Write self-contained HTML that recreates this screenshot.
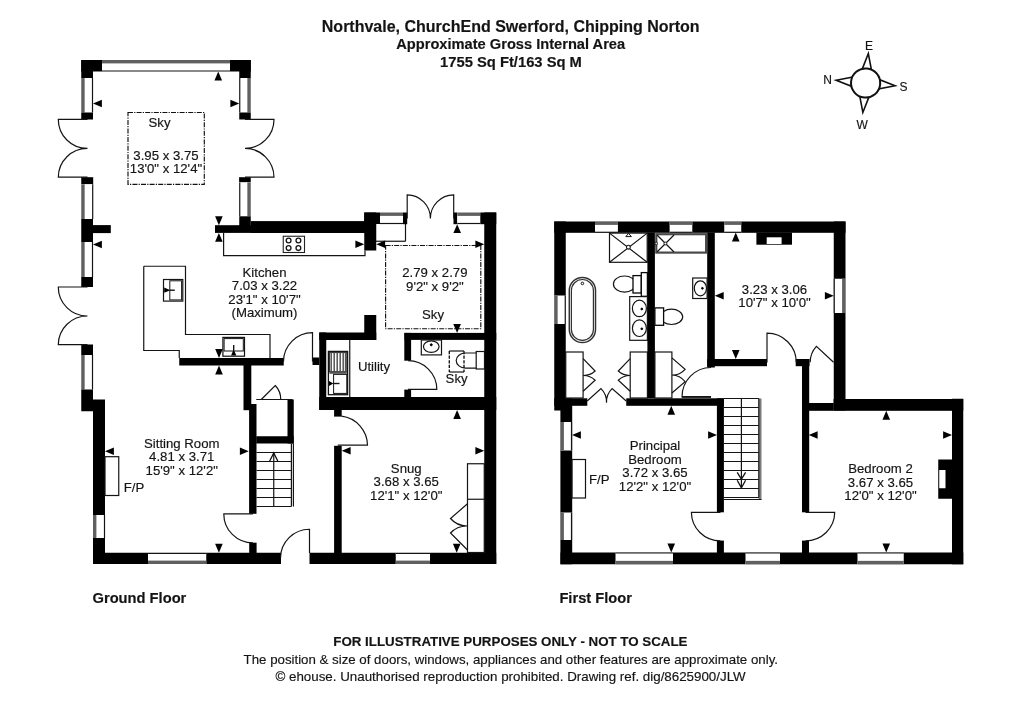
<!DOCTYPE html>
<html><head><meta charset="utf-8"><title>Floor plan</title>
<style>
html,body{margin:0;padding:0;background:#fff;}
body{width:1024px;height:724px;overflow:hidden;font-family:"Liberation Sans",sans-serif;}
svg{display:block;will-change:transform;}
svg text{font-family:"Liberation Sans",sans-serif;fill:#141414;stroke:#141414;stroke-width:0.16px;}
</style></head><body>
<svg width="1024" height="724" viewBox="0 0 1024 724">
<rect x="0" y="0" width="1024" height="724" fill="#fff"/>
<text x="510.7" y="31.7" font-size="16" text-anchor="middle" font-weight="bold" >Northvale, ChurchEnd Swerford, Chipping Norton</text>
<text x="510.7" y="49.3" font-size="14.65" text-anchor="middle" font-weight="bold" >Approximate Gross Internal Area</text>
<text x="511" y="66.5" font-size="14.75" text-anchor="middle" font-weight="bold" >1755 Sq Ft/163 Sq M</text>
<text x="92.5" y="603" font-size="14.7" text-anchor="start" font-weight="bold" >Ground Floor</text>
<text x="559.4" y="603" font-size="14.7" text-anchor="start" font-weight="bold" >First Floor</text>
<text x="510.4" y="645.8" font-size="13.34" text-anchor="middle" font-weight="bold" >FOR ILLUSTRATIVE PURPOSES ONLY - NOT TO SCALE</text>
<text x="510.8" y="663.6" font-size="13.27" text-anchor="middle" font-weight="normal" >The position &amp; size of doors, windows, appliances and other features are approximate only.</text>
<text x="510.6" y="681.2" font-size="13.35" text-anchor="middle" font-weight="normal" >© ehouse. Unauthorised reproduction prohibited. Drawing ref. dig/8625900/JLW</text>
<g transform="translate(865.6,83) rotate(5.3)">
<polygon points="0,-29.6 -4.8,-13 4.8,-13" fill="#fff" stroke="#111" stroke-width="1.6" stroke-linejoin="miter"/>
<polygon points="0,29.6 -4.8,13 4.8,13" fill="#fff" stroke="#111" stroke-width="1.6"/>
<polygon points="-29.6,0 -13,-4.8 -13,4.8" fill="#fff" stroke="#111" stroke-width="1.6"/>
<polygon points="29.6,0 13,-4.8 13,4.8" fill="#fff" stroke="#111" stroke-width="1.6"/>
<circle cx="0" cy="0" r="14.6" fill="#fff" stroke="#111" stroke-width="2"/>
</g>
<text x="868.9" y="49.6" font-size="12" text-anchor="middle" font-weight="normal" >E</text>
<text x="827.7" y="84" font-size="12" text-anchor="middle" font-weight="normal" >N</text>
<text x="903.4" y="90.6" font-size="12" text-anchor="middle" font-weight="normal" >S</text>
<text x="862.1" y="128.9" font-size="12" text-anchor="middle" font-weight="normal" >W</text>
<rect x="81.25" y="60" width="20.75" height="11.5" fill="#000"/>
<rect x="81.25" y="60" width="11.75" height="18" fill="#000"/>
<rect x="230" y="60" width="20.75" height="11.5" fill="#000"/>
<rect x="239.25" y="60" width="11.5" height="18" fill="#000"/>
<rect x="102" y="60" width="128" height="11.5" fill="#fff"/>
<rect x="102" y="60" width="128" height="3.4" fill="#606060"/>
<line x1="102" y1="71" x2="230" y2="71" stroke="#141414" stroke-width="1.2" />
<rect x="81.25" y="78" width="11.75" height="34.5" fill="#fff"/>
<rect x="81.25" y="78" width="3.4" height="34.5" fill="#606060"/>
<line x1="92.5" y1="78" x2="92.5" y2="112.5" stroke="#141414" stroke-width="1.2" />
<rect x="81.25" y="112.5" width="11.75" height="7" fill="#000"/>
<rect x="81.25" y="177.2" width="11.95" height="7.1" fill="#000"/>
<rect x="81.25" y="184.3" width="11.95" height="34.7" fill="#fff"/>
<rect x="81.25" y="184.3" width="3.4" height="34.7" fill="#606060"/>
<line x1="92.7" y1="184.3" x2="92.7" y2="219" stroke="#141414" stroke-width="1.2" />
<rect x="81.25" y="219" width="11.75" height="23" fill="#000"/>
<rect x="93" y="225.1" width="17.8" height="8" fill="#000"/>
<rect x="81.25" y="242" width="11.75" height="35" fill="#fff"/>
<rect x="81.25" y="242" width="3.4" height="35" fill="#606060"/>
<line x1="92.5" y1="242" x2="92.5" y2="277" stroke="#141414" stroke-width="1.2" />
<rect x="81.25" y="277" width="11.75" height="10" fill="#000"/>
<rect x="81.25" y="344.5" width="11.75" height="10.5" fill="#000"/>
<rect x="81.25" y="355" width="11.75" height="34.5" fill="#fff"/>
<rect x="81.25" y="355" width="3.4" height="34.5" fill="#606060"/>
<line x1="92.5" y1="355" x2="92.5" y2="389.5" stroke="#141414" stroke-width="1.2" />
<rect x="81.25" y="389.5" width="11.75" height="21.75" fill="#000"/>
<rect x="93" y="399.5" width="12" height="164.5" fill="#000"/>
<rect x="93" y="515" width="12" height="23" fill="#fff"/>
<rect x="93" y="515" width="3.4" height="23" fill="#606060"/>
<line x1="104.5" y1="515" x2="104.5" y2="538" stroke="#141414" stroke-width="1.2" />
<rect x="239.25" y="78" width="11.5" height="34.5" fill="#fff"/>
<rect x="247.35" y="78" width="3.4" height="34.5" fill="#606060"/>
<line x1="239.75" y1="78" x2="239.75" y2="112.5" stroke="#141414" stroke-width="1.2" />
<rect x="239.25" y="112.5" width="11.5" height="7" fill="#000"/>
<rect x="239.1" y="177.2" width="11.65" height="5.2" fill="#000"/>
<rect x="239.25" y="182.4" width="11.5" height="33.9" fill="#fff"/>
<rect x="247.35" y="182.4" width="3.4" height="33.9" fill="#606060"/>
<line x1="239.75" y1="182.4" x2="239.75" y2="216.3" stroke="#141414" stroke-width="1.2" />
<rect x="239.25" y="216.3" width="11.5" height="9.7" fill="#000"/>
<rect x="215" y="225.2" width="151" height="7.7" fill="#000"/>
<rect x="250.75" y="221.1" width="115.25" height="11.8" fill="#000"/>
<rect x="364.25" y="212.5" width="12" height="38" fill="#000"/>
<rect x="364.25" y="212.5" width="15.75" height="11.5" fill="#000"/>
<rect x="380" y="212.5" width="23" height="11.5" fill="#fff"/>
<rect x="380" y="212.5" width="23" height="3.4" fill="#606060"/>
<line x1="380" y1="223.5" x2="403" y2="223.5" stroke="#141414" stroke-width="1.2" />
<rect x="403" y="212.5" width="4.2" height="11.7" fill="#000"/>
<rect x="453.5" y="212.5" width="3.8" height="11.7" fill="#000"/>
<rect x="457.3" y="212.5" width="23" height="11.5" fill="#fff"/>
<rect x="457.3" y="212.5" width="23" height="3.4" fill="#606060"/>
<line x1="457.3" y1="223.5" x2="480.3" y2="223.5" stroke="#141414" stroke-width="1.2" />
<rect x="480.3" y="212.5" width="15.95" height="11.7" fill="#000"/>
<rect x="484.25" y="212.5" width="12" height="351.5" fill="#000"/>
<rect x="364.25" y="315" width="12" height="25" fill="#000"/>
<rect x="319.25" y="332.5" width="57" height="7.5" fill="#000"/>
<rect x="319.25" y="332.5" width="7" height="77.5" fill="#000"/>
<rect x="312.5" y="357.5" width="6.75" height="7.5" fill="#000"/>
<rect x="179.25" y="358" width="104.5" height="7.5" fill="#000"/>
<rect x="243.5" y="365" width="7.8" height="45.2" fill="#000"/>
<rect x="249.1" y="404" width="7.4" height="109.8" fill="#000"/>
<rect x="249.2" y="542.7" width="7.4" height="10.3" fill="#000"/>
<rect x="256.25" y="436.25" width="37.5" height="7.25" fill="#000"/>
<rect x="287.5" y="399.5" width="6.25" height="44" fill="#000"/>
<rect x="319.25" y="397" width="177" height="13" fill="#000"/>
<rect x="404.5" y="332.9" width="91.75" height="7" fill="#000"/>
<rect x="404.3" y="332.9" width="6.8" height="27.8" fill="#000"/>
<rect x="404.3" y="389.6" width="6.8" height="7.4" fill="#000"/>
<rect x="334.1" y="410" width="7.6" height="6.6" fill="#000"/>
<rect x="334.1" y="445.8" width="7.6" height="107.2" fill="#000"/>
<rect x="93" y="552.75" width="188" height="11.25" fill="#000"/>
<rect x="309.5" y="552.75" width="186.75" height="11.25" fill="#000"/>
<rect x="148" y="553" width="58.25" height="11" fill="#fff"/>
<rect x="148" y="560.6" width="58.25" height="3.4" fill="#606060"/>
<line x1="148" y1="553.5" x2="206.25" y2="553.5" stroke="#141414" stroke-width="1.2" />
<rect x="395.75" y="553" width="34.25" height="11" fill="#fff"/>
<rect x="395.75" y="560.6" width="34.25" height="3.4" fill="#606060"/>
<line x1="395.75" y1="553.5" x2="430" y2="553.5" stroke="#141414" stroke-width="1.2" />
<path d="M87.5,119.4 H58.3 A29,29 0 0 0 87.5,148.4 A29,29 0 0 0 58.3,177.2 H87.5" stroke="#141414" stroke-width="1.2" fill="none" />
<path d="M245,119.4 H274 A29,29 0 0 1 245,148.4 A29,29 0 0 1 274,177.2 H245" stroke="#141414" stroke-width="1.2" fill="none" />
<path d="M87.5,287 H58.3 A29,29 0 0 0 87.5,316 A29,29 0 0 0 58.3,344.6 H87.5" stroke="#141414" stroke-width="1.2" fill="none" />
<path d="M407.2,218.5 V194.8 A23.5,23.5 0 0 1 430.4,218.5 A23.5,23.5 0 0 1 453.7,194.8 V218.5" stroke="#141414" stroke-width="1.2" fill="none" />
<path d="M312.5,361.5 V332.7 A29,29 0 0 0 283.5,361.5" stroke="#141414" stroke-width="1.2" fill="none" />
<path d="M253,513.9 H223.8 A29.2,29 0 0 0 253,542.9" stroke="#141414" stroke-width="1.2" fill="none" />
<path d="M309.5,553 V529.25 A29,29 0 0 0 280.5,558" stroke="#141414" stroke-width="1.2" fill="none" />
<path d="M256.25,399.5 H292.5" stroke="#141414" stroke-width="1.2" fill="none" />
<path d="M261.25,399.5 L275.25,385.5 A19.8,19.8 0 0 1 280.75,399.5" stroke="#141414" stroke-width="1.2" fill="none" />
<path d="M408,389.3 H436.8 A28.8,28.6 0 0 0 408,360.7" stroke="#141414" stroke-width="1.2" fill="none" />
<path d="M337.8,445.2 H367.5 A29.7,29.7 0 0 0 341.5,416.1" stroke="#141414" stroke-width="1.2" fill="none" />
<path d="M223.6,233 V255.6 H365 V250.5" stroke="#141414" stroke-width="1.2" fill="none" />
<rect x="283.25" y="236.25" width="21.25" height="16.25" fill="none" stroke="#222" stroke-width="1.1" />
<ellipse cx="288.6" cy="240.5" rx="2.4" ry="2.4" fill="none" stroke="#141414" stroke-width="1.3"/>
<ellipse cx="298.4" cy="240.5" rx="2.4" ry="2.4" fill="none" stroke="#141414" stroke-width="1.3"/>
<ellipse cx="288.6" cy="248.1" rx="2.4" ry="2.4" fill="none" stroke="#141414" stroke-width="1.3"/>
<ellipse cx="298.4" cy="248.1" rx="2.4" ry="2.4" fill="none" stroke="#141414" stroke-width="1.3"/>
<path d="M143.75,266.25 H185.5 V334.5 H270 V358 M143.75,266.25 V350.5 H179.25 V358" stroke="#141414" stroke-width="1.2" fill="none" />
<rect x="163.5" y="279.5" width="19.3" height="21.6" fill="none" stroke="#141414" stroke-width="1.2" />
<rect x="169.8" y="280.8" width="11.8" height="19.1" fill="none" stroke="#141414" stroke-width="1" />
<polygon points="164.2,287.6 164.2,292.8 170.4,290.2" fill="#000"/>
<line x1="170" y1="290.2" x2="174.8" y2="290.2" stroke="#141414" stroke-width="1.4" />
<rect x="222.9" y="337.4" width="21.6" height="18.8" fill="none" stroke="#141414" stroke-width="1.2" />
<rect x="224.1" y="338.6" width="19.2" height="12.4" fill="none" stroke="#141414" stroke-width="1" />
<polygon points="231.1,355.6 236.3,355.6 233.7,349.3" fill="#000"/>
<line x1="233.7" y1="350" x2="233.7" y2="345" stroke="#141414" stroke-width="1.4" />
<line x1="349.75" y1="340" x2="349.75" y2="397" stroke="#141414" stroke-width="1.2" />
<rect x="328.4" y="351.4" width="19.2" height="43.3" fill="none" stroke="#141414" stroke-width="1.3" />
<rect x="329.4" y="352.6" width="17.4" height="19" fill="#fff"/>
<rect x="329.4" y="352.6" width="17.4" height="19" fill="none" stroke="#222" stroke-width="1" />
<line x1="331.2" y1="352.6" x2="331.2" y2="371.6" stroke="#555" stroke-width="1.5" />
<line x1="334.2" y1="352.6" x2="334.2" y2="371.6" stroke="#555" stroke-width="1.5" />
<line x1="337.2" y1="352.6" x2="337.2" y2="371.6" stroke="#555" stroke-width="1.5" />
<line x1="340.2" y1="352.6" x2="340.2" y2="371.6" stroke="#555" stroke-width="1.5" />
<line x1="343.2" y1="352.6" x2="343.2" y2="371.6" stroke="#555" stroke-width="1.5" />
<line x1="345.6" y1="352.6" x2="345.6" y2="371.6" stroke="#555" stroke-width="1.5" />
<rect x="329.4" y="371.4" width="17.4" height="2.4" fill="#555"/>
<rect x="333.6" y="374.4" width="13.2" height="19" fill="none" stroke="#141414" stroke-width="1" />
<polygon points="329,381 329,386 333.4,383.5" fill="#000"/>
<line x1="333" y1="383.5" x2="339.5" y2="383.5" stroke="#141414" stroke-width="1.4" />
<rect x="421.3" y="340" width="20.2" height="14.9" fill="none" stroke="#141414" stroke-width="1.2" />
<ellipse cx="431.25" cy="346.6" rx="7.8" ry="5.8" fill="none" stroke="#141414" stroke-width="1.2"/>
<ellipse cx="431.25" cy="344.8" rx="1" ry="1" fill="#000" stroke="#000" stroke-width="1"/>
<rect x="476.2" y="351.5" width="8.3" height="17.5" fill="none" stroke="#141414" stroke-width="1.2" />
<path d="M476.2,353 H465.5 A9.3,7.55 0 0 0 465.5,368.1 H476.2" stroke="#141414" stroke-width="1.2" fill="none" />
<line x1="449.3" y1="351" x2="464" y2="351" stroke="#141414" stroke-width="1.2" />
<line x1="449.3" y1="372" x2="464" y2="372" stroke="#141414" stroke-width="1.2" />
<line x1="449.3" y1="351" x2="449.3" y2="372" stroke="#0a0a0a" stroke-width="1.3" stroke-dasharray="3.2,1.4"/>
<line x1="464" y1="351" x2="464" y2="372" stroke="#0a0a0a" stroke-width="1.3" stroke-dasharray="3.2,1.4"/>
<rect x="467.5" y="463.75" width="16.75" height="88.75" fill="none" stroke="#141414" stroke-width="1.2" />
<line x1="467.5" y1="499.25" x2="484.25" y2="499.25" stroke="#141414" stroke-width="1.2" />
<path d="M467.5,503.75 L450.5,518.5 A22,22 0 0 0 467.5,526 A22,22 0 0 0 450.5,533 L467.5,550" stroke="#141414" stroke-width="1.2" fill="none" />
<rect x="105" y="456.7" width="13.75" height="38.8" fill="none" stroke="#141414" stroke-width="1.2" />
<line x1="256.5" y1="452.5" x2="291.4" y2="452.5" stroke="#141414" stroke-width="1.2" />
<line x1="256.5" y1="461.5" x2="291.4" y2="461.5" stroke="#141414" stroke-width="1.2" />
<line x1="256.5" y1="470.5" x2="291.4" y2="470.5" stroke="#141414" stroke-width="1.2" />
<line x1="256.5" y1="479.5" x2="291.4" y2="479.5" stroke="#141414" stroke-width="1.2" />
<line x1="256.5" y1="488.5" x2="291.4" y2="488.5" stroke="#141414" stroke-width="1.2" />
<line x1="256.5" y1="497.5" x2="291.4" y2="497.5" stroke="#141414" stroke-width="1.2" />
<line x1="256.5" y1="506.5" x2="291.4" y2="506.5" stroke="#141414" stroke-width="1.2" />
<line x1="291.4" y1="443.5" x2="291.4" y2="506.5" stroke="#141414" stroke-width="1.2" />
<line x1="293.4" y1="443.5" x2="293.4" y2="506.5" stroke="#141414" stroke-width="1.2" />
<line x1="273.75" y1="506.5" x2="273.75" y2="453.2" stroke="#141414" stroke-width="1.2" />
<path d="M269.6,461.2 L273.75,453 L277.9,461.2" stroke="#0a0a0a" stroke-width="1.3" fill="none" stroke-linejoin="miter"/>
<rect x="128" y="112.5" width="76.3" height="71.8" fill="none" stroke="#111" stroke-width="1.15" stroke-dasharray="5,1.2,1.2,1.2"/>
<rect x="385.6" y="245.5" width="95.2" height="83.25" fill="none" stroke="#111" stroke-width="1.15" stroke-dasharray="5,1.2,1.2,1.2"/>
<line x1="376" y1="241.25" x2="405.5" y2="241.25" stroke="#141414" stroke-width="1.2" />
<line x1="405.5" y1="224" x2="405.5" y2="241.25" stroke="#141414" stroke-width="1.2" />
<polygon points="218.25,71.5 214.45,80.4 222.05,80.4" fill="#000"/>
<polygon points="93,103.5 101.9,99.7 101.9,107.3" fill="#000"/>
<polygon points="239.25,103.5 230.35,99.7 230.35,107.3" fill="#000"/>
<polygon points="218.9,225.2 215.1,216.3 222.7,216.3" fill="#000"/>
<polygon points="218.9,232.9 215.1,241.8 222.7,241.8" fill="#000"/>
<polygon points="93,244.5 101.9,240.7 101.9,248.3" fill="#000"/>
<polygon points="219,358 215.2,349.1 222.8,349.1" fill="#000"/>
<polygon points="219,365.6 215.2,374.5 222.8,374.5" fill="#000"/>
<polygon points="105,451.25 113.9,447.45 113.9,455.05" fill="#000"/>
<polygon points="248.75,451.25 239.85,447.45 239.85,455.05" fill="#000"/>
<polygon points="218.9,552.75 215.1,543.85 222.7,543.85" fill="#000"/>
<polygon points="364.25,244.3 355.35,240.5 355.35,248.1" fill="#000"/>
<polygon points="376.25,244.3 385.15,240.5 385.15,248.1" fill="#000"/>
<polygon points="484.25,244.3 475.35,240.5 475.35,248.1" fill="#000"/>
<polygon points="457.2,224.2 453.4,233.1 461,233.1" fill="#000"/>
<polygon points="457.1,332.9 453.3,324 460.9,324" fill="#000"/>
<polygon points="457.1,410 453.3,418.9 460.9,418.9" fill="#000"/>
<polygon points="341.7,450.75 350.6,446.95 350.6,454.55" fill="#000"/>
<polygon points="484.25,450.75 475.35,446.95 475.35,454.55" fill="#000"/>
<polygon points="456.7,552.75 452.9,543.85 460.5,543.85" fill="#000"/>
<text x="159.5" y="126.55" font-size="13.2" text-anchor="middle" font-weight="normal" >Sky</text>
<text x="166" y="159.8" font-size="13.2" text-anchor="middle" font-weight="normal" >3.95 x 3.75</text>
<text x="166" y="172.8" font-size="13.2" text-anchor="middle" font-weight="normal" >13'0" x 12'4"</text>
<text x="264.5" y="276.55" font-size="13.2" text-anchor="middle" font-weight="normal" >Kitchen</text>
<text x="264.5" y="290.3" font-size="13.2" text-anchor="middle" font-weight="normal" >7.03 x 3.22</text>
<text x="264.5" y="304.05" font-size="13.2" text-anchor="middle" font-weight="normal" >23'1" x 10'7"</text>
<text x="264.5" y="317.3" font-size="13.2" text-anchor="middle" font-weight="normal" >(Maximum)</text>
<text x="434.9" y="277.4" font-size="13.2" text-anchor="middle" font-weight="normal" >2.79 x 2.79</text>
<text x="434.9" y="290.7" font-size="13.2" text-anchor="middle" font-weight="normal" >9'2" x 9'2"</text>
<text x="433" y="319.05" font-size="13.2" text-anchor="middle" font-weight="normal" >Sky</text>
<text x="374" y="371.3" font-size="13.2" text-anchor="middle" font-weight="normal" >Utility</text>
<text x="456.6" y="383.3" font-size="13.2" text-anchor="middle" font-weight="normal" >Sky</text>
<text x="181.75" y="447.8" font-size="13.2" text-anchor="middle" font-weight="normal" >Sitting Room</text>
<text x="181.75" y="461.1" font-size="13.2" text-anchor="middle" font-weight="normal" >4.81 x 3.71</text>
<text x="181.75" y="474.5" font-size="13.2" text-anchor="middle" font-weight="normal" >15'9" x 12'2"</text>
<text x="123.75" y="491.7" font-size="13.2" text-anchor="start" font-weight="normal" >F/P</text>
<text x="406.25" y="472.8" font-size="13.2" text-anchor="middle" font-weight="normal" >Snug</text>
<text x="406.25" y="486.1" font-size="13.2" text-anchor="middle" font-weight="normal" >3.68 x 3.65</text>
<text x="406.25" y="499.8" font-size="13.2" text-anchor="middle" font-weight="normal" >12'1" x 12'0"</text>
<rect x="554.25" y="221.5" width="11.5" height="189" fill="#000"/>
<rect x="554.25" y="295.5" width="11.5" height="28.5" fill="#fff"/>
<rect x="554.25" y="295.5" width="3.4" height="28.5" fill="#606060"/>
<line x1="565.25" y1="295.5" x2="565.25" y2="324" stroke="#141414" stroke-width="1.2" />
<rect x="554.25" y="221.5" width="291.25" height="11.3" fill="#000"/>
<rect x="595" y="221.5" width="22.9" height="11.3" fill="#fff"/>
<rect x="595" y="221.5" width="22.9" height="3.4" fill="#606060"/>
<line x1="595" y1="232.3" x2="617.9" y2="232.3" stroke="#141414" stroke-width="1.2" />
<rect x="669.6" y="221.5" width="22.7" height="11.3" fill="#fff"/>
<rect x="669.6" y="221.5" width="22.7" height="3.4" fill="#606060"/>
<line x1="669.6" y1="232.3" x2="692.3" y2="232.3" stroke="#141414" stroke-width="1.2" />
<rect x="724.25" y="221.5" width="17" height="11.3" fill="#fff"/>
<rect x="724.25" y="221.5" width="17" height="3.4" fill="#606060"/>
<line x1="724.25" y1="232.3" x2="741.25" y2="232.3" stroke="#141414" stroke-width="1.2" />
<rect x="833.75" y="221.5" width="11.75" height="189" fill="#000"/>
<rect x="833.75" y="278.75" width="11.75" height="34.25" fill="#fff"/>
<rect x="842.1" y="278.75" width="3.4" height="34.25" fill="#606060"/>
<line x1="834.25" y1="278.75" x2="834.25" y2="313" stroke="#141414" stroke-width="1.2" />
<rect x="647.4" y="232.5" width="7.5" height="165.5" fill="#000"/>
<rect x="707.2" y="232.5" width="7.6" height="135" fill="#000"/>
<rect x="707.2" y="359" width="59.8" height="7.2" fill="#000"/>
<rect x="795.7" y="359" width="13.8" height="7.2" fill="#000"/>
<rect x="802" y="359" width="7.2" height="153.3" fill="#000"/>
<rect x="802" y="540.6" width="7" height="12.4" fill="#000"/>
<rect x="808.75" y="403" width="25" height="7.8" fill="#000"/>
<rect x="833.6" y="399" width="129.65" height="11.8" fill="#000"/>
<rect x="952" y="398.75" width="11.25" height="165.5" fill="#000"/>
<rect x="938.25" y="459.5" width="13.75" height="39.25" fill="#000"/>
<rect x="939.25" y="470" width="6.25" height="18.25" fill="#fff"/>
<rect x="560.5" y="552.5" width="402.75" height="11.75" fill="#000"/>
<rect x="615.5" y="552.5" width="57.5" height="11.75" fill="#fff"/>
<rect x="615.5" y="560.85" width="57.5" height="3.4" fill="#606060"/>
<line x1="615.5" y1="553" x2="673" y2="553" stroke="#141414" stroke-width="1.2" />
<rect x="745.5" y="552.5" width="34.5" height="11.75" fill="#fff"/>
<rect x="745.5" y="560.85" width="34.5" height="3.4" fill="#606060"/>
<line x1="745.5" y1="553" x2="780" y2="553" stroke="#141414" stroke-width="1.2" />
<rect x="857.5" y="552.5" width="46.25" height="11.75" fill="#fff"/>
<rect x="857.5" y="560.85" width="46.25" height="3.4" fill="#606060"/>
<line x1="857.5" y1="553" x2="903.75" y2="553" stroke="#141414" stroke-width="1.2" />
<rect x="560.4" y="398.3" width="11.8" height="165.95" fill="#000"/>
<rect x="560.5" y="422" width="11.5" height="28.5" fill="#fff"/>
<rect x="560.5" y="422" width="3.4" height="28.5" fill="#606060"/>
<line x1="571.5" y1="422" x2="571.5" y2="450.5" stroke="#141414" stroke-width="1.2" />
<rect x="560.5" y="512.5" width="11.5" height="27.5" fill="#fff"/>
<rect x="560.5" y="512.5" width="3.4" height="27.5" fill="#606060"/>
<line x1="571.5" y1="512.5" x2="571.5" y2="540" stroke="#141414" stroke-width="1.2" />
<rect x="554.25" y="398.3" width="33.05" height="7.5" fill="#000"/>
<rect x="626.25" y="398.3" width="97.5" height="7.5" fill="#000"/>
<rect x="716.9" y="398.3" width="7" height="114" fill="#000"/>
<rect x="716.9" y="540.6" width="7" height="12.4" fill="#000"/>
<rect x="756.4" y="232.5" width="35.6" height="12.2" fill="#000"/>
<rect x="766.7" y="237.3" width="14.9" height="6.7" fill="#fff"/>
<rect x="609.5" y="233.1" width="37.7" height="29.2" fill="none" stroke="#141414" stroke-width="1.2" />
<path d="M609.5,233.1 L647.2,262.3 M647.2,233.1 L609.5,262.3" stroke="#141414" stroke-width="1.2" fill="none" />
<ellipse cx="628.4" cy="247.2" rx="1.9" ry="1.9" fill="#fff" stroke="#111" stroke-width="1.1"/>
<path d="M625.8,236.6 L628.6,233.4 L631.4,236.6 Z" stroke="#111" stroke-width="1" fill="#fff" />
<rect x="656.3" y="234.2" width="49.8" height="18.4" fill="none" stroke="#4a4a4a" stroke-width="2.2" />
<path d="M657,235 L674,252 M674,235 L657,252" stroke="#141414" stroke-width="1.2" fill="none" />
<ellipse cx="665.4" cy="243.5" rx="1.4" ry="1.4" fill="#fff" stroke="#111" stroke-width="1"/>
<ellipse cx="656.2" cy="243.5" rx="1.1" ry="1.6" fill="#fff" stroke="#111" stroke-width="1"/>
<rect x="569.3" y="277.4" width="26.2" height="65.1" fill="none" stroke="#333" stroke-width="1.5" rx="13.1" ry="13.1"/>
<rect x="571.4" y="279.5" width="22" height="60.9" fill="none" stroke="#333" stroke-width="1.2" rx="11" ry="11"/>
<ellipse cx="582.4" cy="283.4" rx="1.3" ry="1.3" fill="none" stroke="#141414" stroke-width="1"/>
<ellipse cx="624.5" cy="284.1" rx="11.1" ry="8.1" fill="none" stroke="#141414" stroke-width="1.2"/>
<rect x="633" y="275.6" width="8.3" height="17.4" fill="#fff" stroke="#0a0a0a" stroke-width="1.3" />
<rect x="641.3" y="272.6" width="6.1" height="23.7" fill="#fff" stroke="#0a0a0a" stroke-width="1.3" />
<rect x="629.7" y="296.6" width="17.7" height="43.7" fill="none" stroke="#141414" stroke-width="1.2" />
<ellipse cx="639.4" cy="308.4" rx="7" ry="8.3" fill="none" stroke="#141414" stroke-width="1.2"/>
<ellipse cx="639.4" cy="328.2" rx="7" ry="8.3" fill="none" stroke="#141414" stroke-width="1.2"/>
<ellipse cx="641.8" cy="309" rx="0.9" ry="0.9" fill="#000" stroke="#000" stroke-width="1"/>
<ellipse cx="641.8" cy="328.8" rx="0.9" ry="0.9" fill="#000" stroke="#000" stroke-width="1"/>
<rect x="692.7" y="278" width="14.4" height="20.5" fill="none" stroke="#141414" stroke-width="1.2" />
<ellipse cx="700.4" cy="288.3" rx="6.1" ry="7.5" fill="none" stroke="#141414" stroke-width="1.2"/>
<ellipse cx="702.4" cy="288.3" rx="0.9" ry="0.9" fill="#000" stroke="#000" stroke-width="1"/>
<ellipse cx="671.5" cy="316.85" rx="11.2" ry="7.65" fill="none" stroke="#141414" stroke-width="1.2"/>
<rect x="654.9" y="307.9" width="8.7" height="17.4" fill="#fff" stroke="#0a0a0a" stroke-width="1.3" />
<rect x="565.75" y="352" width="17.35" height="46" fill="none" stroke="#141414" stroke-width="1.2" />
<rect x="630.2" y="352" width="17.2" height="46" fill="none" stroke="#141414" stroke-width="1.2" />
<rect x="654.9" y="352" width="17" height="46" fill="none" stroke="#141414" stroke-width="1.2" />
<path d="M583.1,358.7 L595.1,371 A17.2,17.2 0 0 1 583.1,375.5 A16.5,16.5 0 0 1 595.1,380.3 L583.1,391.2" stroke="#141414" stroke-width="1.2" fill="none" />
<path d="M630.2,358.7 L618.3,371 A17.2,17.2 0 0 0 630.2,375.5 A16.5,16.5 0 0 0 618.3,380.3 L630.2,391.2" stroke="#141414" stroke-width="1.2" fill="none" />
<path d="M671.9,357.9 L685.1,369.3 A17.2,17.2 0 0 1 671.9,375 A17.5,17.5 0 0 1 685.1,381.6 L671.9,393" stroke="#141414" stroke-width="1.2" fill="none" />
<path d="M587.2,401 L601,388.6 A18.5,18.5 0 0 1 606.5,402.7 A18.5,18.5 0 0 1 612.1,388.6 L626.2,401" stroke="#141414" stroke-width="1.2" fill="none" />
<path d="M711,396.9 H682 A29,29.4 0 0 1 711,367.5" stroke="#141414" stroke-width="1.2" fill="none" />
<line x1="682" y1="396.9" x2="711" y2="396.9" stroke="#141414" stroke-width="1.8" />
<path d="M767,362.5 V333.2 A29.3,29.3 0 0 1 796.3,362.5" stroke="#141414" stroke-width="1.2" fill="none" />
<path d="M833.5,362.2 L816.4,346.4 A23.3,23.3 0 0 0 810.2,362.2" stroke="#141414" stroke-width="1.2" fill="none" />
<path d="M720.4,512.3 H691.4 A29,28.6 0 0 0 720.4,540.9" stroke="#141414" stroke-width="1.2" fill="none" />
<path d="M805.5,512.3 H834.7 A29.2,28.6 0 0 1 805.5,540.9" stroke="#141414" stroke-width="1.2" fill="none" />
<rect x="572" y="459.5" width="13.5" height="38.5" fill="none" stroke="#141414" stroke-width="1.2" />
<rect x="758.5" y="398.5" width="3" height="101" fill="#7c7c7c"/>
<line x1="724" y1="398.5" x2="758.8" y2="398.5" stroke="#141414" stroke-width="1.2" />
<line x1="724" y1="407.5" x2="758.8" y2="407.5" stroke="#141414" stroke-width="1.2" />
<line x1="724" y1="416.5" x2="758.8" y2="416.5" stroke="#141414" stroke-width="1.2" />
<line x1="724" y1="425.5" x2="758.8" y2="425.5" stroke="#141414" stroke-width="1.2" />
<line x1="724" y1="434.5" x2="758.8" y2="434.5" stroke="#141414" stroke-width="1.2" />
<line x1="724" y1="443.5" x2="758.8" y2="443.5" stroke="#141414" stroke-width="1.2" />
<line x1="724" y1="452.5" x2="758.8" y2="452.5" stroke="#141414" stroke-width="1.2" />
<line x1="724" y1="461.5" x2="758.8" y2="461.5" stroke="#141414" stroke-width="1.2" />
<line x1="724" y1="470.5" x2="758.8" y2="470.5" stroke="#141414" stroke-width="1.2" />
<line x1="724" y1="479.5" x2="758.8" y2="479.5" stroke="#141414" stroke-width="1.2" />
<line x1="724" y1="488.5" x2="758.8" y2="488.5" stroke="#141414" stroke-width="1.2" />
<line x1="724" y1="497.5" x2="758.8" y2="497.5" stroke="#141414" stroke-width="1.2" />
<line x1="758.8" y1="398.5" x2="758.8" y2="497.5" stroke="#141414" stroke-width="1.1" />
<line x1="723.9" y1="499.5" x2="761.5" y2="499.5" stroke="#141414" stroke-width="1.2" />
<line x1="741.4" y1="398.5" x2="741.4" y2="487.6" stroke="#141414" stroke-width="1.2" />
<path d="M737.2,472.3 L741.4,479.2 L745.6,472.3 M737.2,480.2 L741.4,487.8 L745.6,480.2" stroke="#141414" stroke-width="1.3" fill="none" />
<polygon points="735.75,232.5 731.95,241.4 739.55,241.4" fill="#000"/>
<polygon points="714.8,295.75 723.7,291.95 723.7,299.55" fill="#000"/>
<polygon points="735.75,359 731.95,350.1 739.55,350.1" fill="#000"/>
<polygon points="833.75,295.75 824.85,291.95 824.85,299.55" fill="#000"/>
<polygon points="671.25,405.8 667.45,414.7 675.05,414.7" fill="#000"/>
<polygon points="572,435 580.9,431.2 580.9,438.8" fill="#000"/>
<polygon points="717,435 708.1,431.2 708.1,438.8" fill="#000"/>
<polygon points="671.25,552.5 667.45,543.6 675.05,543.6" fill="#000"/>
<polygon points="886.25,410.8 882.45,419.7 890.05,419.7" fill="#000"/>
<polygon points="808.75,435 817.65,431.2 817.65,438.8" fill="#000"/>
<polygon points="952,435 943.1,431.2 943.1,438.8" fill="#000"/>
<polygon points="886.25,552.5 882.45,543.6 890.05,543.6" fill="#000"/>
<text x="774.5" y="294.05" font-size="13.2" text-anchor="middle" font-weight="normal" >3.23 x 3.06</text>
<text x="774.5" y="307.3" font-size="13.2" text-anchor="middle" font-weight="normal" >10'7" x 10'0"</text>
<text x="655" y="450.3" font-size="13.2" text-anchor="middle" font-weight="normal" >Principal</text>
<text x="655" y="464.05" font-size="13.2" text-anchor="middle" font-weight="normal" >Bedroom</text>
<text x="655" y="477.3" font-size="13.2" text-anchor="middle" font-weight="normal" >3.72 x 3.65</text>
<text x="655" y="490.6" font-size="13.2" text-anchor="middle" font-weight="normal" >12'2" x 12'0"</text>
<text x="589" y="483.5" font-size="13.2" text-anchor="start" font-weight="normal" >F/P</text>
<text x="880.5" y="472.8" font-size="13.2" text-anchor="middle" font-weight="normal" >Bedroom 2</text>
<text x="880.5" y="486.55" font-size="13.2" text-anchor="middle" font-weight="normal" >3.67 x 3.65</text>
<text x="880.5" y="499.8" font-size="13.2" text-anchor="middle" font-weight="normal" >12'0" x 12'0"</text>
</svg>
</body></html>
